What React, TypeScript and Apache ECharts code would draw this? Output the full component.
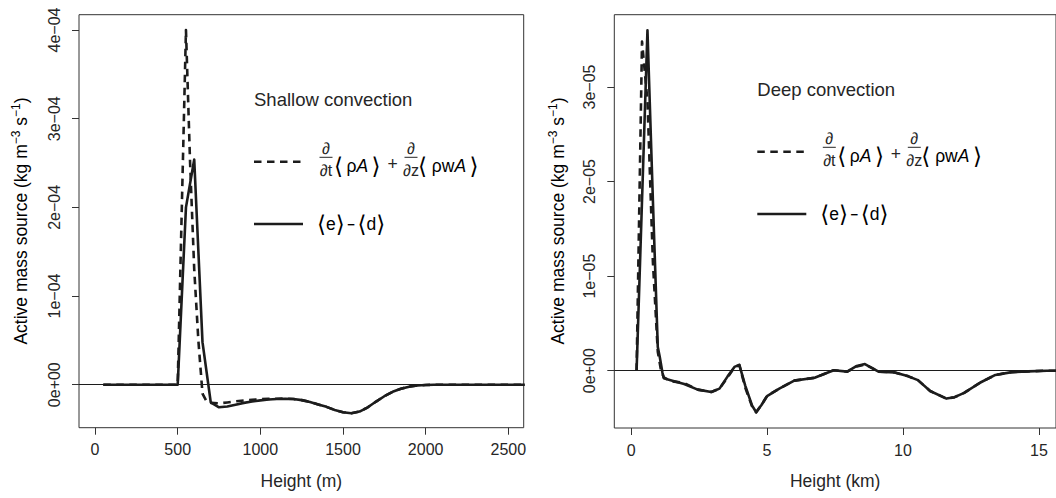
import React, { useEffect, useRef } from 'react';
import * as echarts from 'echarts';

// ---------- data (shallow: height in m, values in units of 1e-4) ----------
const SHALLOW_UNIT = 1e-4;
const shallowNetHeight = [50, 100, 150, 200, 250, 300, 350, 400, 450, 500, 550, 600, 650, 700, 750, 800, 850, 900, 950, 1000, 1050, 1100, 1150, 1200, 1250, 1300, 1350, 1400, 1450, 1500, 1550, 1600, 1650, 1700, 1750, 1800, 1850, 1900, 1950, 2000, 2050, 2100, 2200, 2300, 2400, 2500, 2600];
const shallowNet = [0, 0, 0, 0, 0, 0, 0, 0, 0, 0, 2.0, 2.54, 0.48, -0.2, -0.255, -0.245, -0.225, -0.205, -0.19, -0.177, -0.167, -0.161, -0.158, -0.162, -0.174, -0.194, -0.222, -0.25, -0.285, -0.31, -0.322, -0.303, -0.255, -0.19, -0.13, -0.08, -0.046, -0.022, -0.009, -0.004, -0.001, 0, 0, 0, 0, 0, 0];
const shallowStorageHeight = [50, 100, 150, 200, 250, 300, 350, 400, 450, 500, 550, 575, 600, 625, 650, 675, 700, 750, 800, 850, 900, 950, 1000, 1050, 1100, 1150, 1200, 1250, 1300, 1350, 1400, 1450, 1500, 1550, 1600, 1650, 1700, 1750, 1800, 1850, 1900, 1950, 2000, 2050, 2100, 2200, 2300, 2400, 2500, 2600];
const shallowStorage = [0, 0, 0, 0, 0, 0, 0, 0, 0, 0, 4.0, 2.5, 1.3, 0.5, -0.1, -0.19, -0.205, -0.21, -0.2, -0.188, -0.178, -0.17, -0.164, -0.16, -0.158, -0.157, -0.162, -0.174, -0.194, -0.222, -0.25, -0.285, -0.31, -0.322, -0.303, -0.255, -0.19, -0.13, -0.08, -0.046, -0.022, -0.009, -0.004, -0.001, 0, 0, 0, 0, 0, 0];
const shallowXTicks = [0, 500, 1000, 1500, 2000, 2500];
const shallowXLabels = ['0', '500', '1000', '1500', '2000', '2500'];
const shallowYTicks = [0, 1e-4, 2e-4, 3e-4, 4e-4];
const shallowYLabels = ['0e+00', '1e\u221204', '2e\u221204', '3e\u221204', '4e\u221204'];

// ---------- data (deep: height in km, values in units of 1e-5) ----------
const DEEP_UNIT = 1e-5;
const deepNetHeight = [0.2, 0.6, 0.8, 0.98, 1.05, 1.15, 1.2, 1.45, 1.95, 2.45, 2.95, 3.25, 3.55, 3.8, 3.98, 4.2, 4.45, 4.6, 4.8, 5.0, 5.45, 6.0, 6.75, 7.1, 7.45, 7.95, 8.3, 8.6, 8.85, 9.1, 9.7, 10.2, 10.55, 11.0, 11.6, 11.9, 12.25, 12.85, 13.4, 14.0, 14.6, 15.3, 16.0];
const deepNet = [0, 3.6, 1.8, 0.25, 0.15, -0.02, -0.08, -0.1, -0.14, -0.2, -0.225, -0.19, -0.06, 0.04, 0.062, -0.16, -0.37, -0.44, -0.36, -0.27, -0.19, -0.105, -0.075, -0.035, 0.005, -0.01, 0.05, 0.07, 0.03, -0.01, -0.018, -0.06, -0.1, -0.215, -0.295, -0.28, -0.235, -0.125, -0.045, -0.015, -0.007, 0, 0];
const deepStorageHeight = [0.2, 0.4, 0.6, 0.8, 0.98, 1.1, 1.2, 1.45, 1.95, 2.45, 2.95, 3.25, 3.55, 3.8, 3.98, 4.2, 4.45, 4.6, 4.8, 5.0, 5.45, 6.0, 6.75, 7.1, 7.45, 7.95, 8.3, 8.6, 8.85, 9.1, 9.7, 10.2, 10.55, 11.0, 11.6, 11.9, 12.25, 12.85, 13.4, 14.0, 14.6, 15.3, 16.0];
const deepStorage = [0, 3.48, 2.85, 1.15, 0.2, 0.0, -0.07, -0.11, -0.13, -0.2, -0.225, -0.19, -0.07, 0.035, 0.06, -0.18, -0.38, -0.44, -0.36, -0.265, -0.19, -0.105, -0.075, -0.035, 0.005, -0.01, 0.045, 0.065, 0.03, -0.01, -0.018, -0.06, -0.1, -0.215, -0.295, -0.28, -0.235, -0.125, -0.045, -0.015, -0.007, 0, 0];
const deepXTicks = [0, 5, 10, 15];
const deepXLabels = ['0', '5', '10', '15'];
const deepYTicks = [0, 1e-5, 2e-5, 3e-5];
const deepYLabels = ['0e+00', '1e\u221205', '2e\u221205', '3e\u221205'];

const panelTitles = ['Shallow convection', 'Deep convection'];
const xTitles = ['Height (m)', 'Height (km)'];

const FONT = "'Liberation Sans', 'DejaVu Sans', Arial, sans-serif";
const INK = '#1c1c1c';
const AXIS = '#333333';
const TEXT = '#262626';

function pairs(xs: number[], ys: number[], unit: number) {
  return xs.map((x, i) => [x, ys[i] * unit]);
}

function lookup(ticks: number[], labels: string[]) {
  return (v: number) => {
    const i = ticks.findIndex((t) => Math.abs(t - v) <= Math.abs(t) * 1e-6 + 1e-15);
    return i >= 0 ? labels[i] : '';
  };
}

function xAxisCfg(gridIndex: number, min: number, max: number, ticks: number[], labels: string[], name: string) {
  return {
    type: 'value', gridIndex, min, max, position: 'bottom',
    axisLine: { show: false, onZero: false },
    splitLine: { show: false },
    axisTick: { show: true, inside: false, length: 7, customValues: ticks, lineStyle: { color: AXIS, width: 1 } },
    axisLabel: { show: true, customValues: ticks, formatter: lookup(ticks, labels), fontSize: 16, fontFamily: FONT, color: TEXT, margin: 14 },
    name, nameLocation: 'middle', nameGap: 44,
    nameTextStyle: { fontSize: 17.5, fontFamily: FONT, color: TEXT },
  };
}

function yAxisCfg(gridIndex: number, min: number, max: number, ticks: number[], labels: string[]) {
  return {
    type: 'value', gridIndex, min, max, position: 'left',
    axisLine: { show: false, onZero: false },
    splitLine: { show: false },
    axisTick: { show: true, inside: false, length: 7, customValues: ticks, lineStyle: { color: AXIS, width: 1 } },
    axisLabel: { show: true, customValues: ticks, formatter: lookup(ticks, labels), rotate: 90, fontSize: 16, fontFamily: FONT, color: TEXT, margin: 17 },
  };
}

function lineSeries(data: number[][], gridIdx: number, dashed: boolean, withZero: boolean) {
  const s: any = {
    type: 'line', xAxisIndex: gridIdx, yAxisIndex: gridIdx, data,
    showSymbol: false, symbol: 'none', clip: true, silent: true,
    lineStyle: { color: INK, width: 2.6, type: dashed ? [7.5, 5.5] : 'solid', cap: 'butt', join: 'round' },
    z: dashed ? 3 : 4,
  };
  if (withZero) {
    s.markLine = {
      silent: true, symbol: ['none', 'none'], label: { show: false },
      lineStyle: { color: INK, width: 1, type: 'solid' },
      data: [{ yAxis: 0 }],
      z: 2,
    };
  }
  return s;
}

function frac(cx: number, yDash: number, letter: string) {
  const base = { fontSize: 16, fontFamily: FONT, fill: TEXT, align: 'center', verticalAlign: 'middle' };
  return [
    { type: 'text', x: cx, y: yDash - 13.5, style: { ...base, text: '\u2202' } },
    { type: 'line', shape: { x1: cx - 6.5, y1: yDash - 4.4, x2: cx + 6.5, y2: yDash - 4.4 }, style: { stroke: TEXT, lineWidth: 1 } },
    { type: 'text', x: cx, y: yDash + 8.3, style: { ...base, text: '\u2202' + letter } },
  ];
}

const mathRich = {
  b: { fontSize: 23, fontFamily: FONT, color: TEXT },
  g: { fontSize: 17.5, fontFamily: FONT, color: TEXT },
  i: { fontSize: 17.5, fontFamily: FONT, color: TEXT, fontStyle: 'italic' },
  m: { fontSize: 13, fontFamily: FONT, color: TEXT, fontWeight: 'bold' },
};

function legend(x0: number, yDash: number, title: string) {
  const ySolid = yDash + 62.3;
  const mainY = yDash + 4;
  return [
    { type: 'text', x: x0, y: yDash - 62, style: { text: title, fontSize: 18.5, fontFamily: FONT, fill: TEXT, align: 'left', verticalAlign: 'middle' } },
    { type: 'line', shape: { x1: x0, y1: yDash, x2: x0 + 48, y2: yDash }, style: { stroke: INK, lineWidth: 2.6, lineDash: [7.5, 5.5] } },
    ...frac(x0 + 72, yDash, 't'),
    { type: 'text', x: x0 + 80, y: mainY, style: { text: '{b|\u27E8}{g|\u2009\u03C1}{i|A}{g|\u2009}{b|\u27E9}', rich: mathRich, align: 'left', verticalAlign: 'middle' } },
    { type: 'text', x: x0 + 138.5, y: yDash + 2, style: { text: '+', fontSize: 17.5, fontFamily: FONT, fill: TEXT, align: 'center', verticalAlign: 'middle' } },
    ...frac(x0 + 157, yDash, 'z'),
    { type: 'text', x: x0 + 164, y: mainY, style: { text: '{b|\u27E8}{g| \u03C1w}{i|A}{g|\u2009}{b|\u27E9}', rich: mathRich, align: 'left', verticalAlign: 'middle' } },
    { type: 'line', shape: { x1: x0, y1: ySolid, x2: x0 + 49, y2: ySolid }, style: { stroke: INK, lineWidth: 2.6 } },
    { type: 'text', x: x0 + 63, y: ySolid, style: { text: '{b|\u27E8}{g|e}{b|\u27E9}{m|\u2009\u2212\u2009}{b|\u27E8}{g|d}{b|\u27E9}', rich: mathRich, align: 'left', verticalAlign: 'middle' } },
  ];
}

function yTitle(x: number, y: number) {
  return {
    type: 'text', x, y, rotation: Math.PI / 2,
    style: {
      text: '{n|Active mass source (kg m}{s|\u22123}{n| s}{s|\u22121}{n|)}',
      align: 'center', verticalAlign: 'middle',
      rich: {
        n: { fontSize: 17.5, fontFamily: FONT, color: TEXT, lineHeight: 22, verticalAlign: 'middle' },
        s: { fontSize: 12, fontFamily: FONT, color: TEXT, lineHeight: 10, verticalAlign: 'top' },
      },
    },
  };
}

export default function App() {
  const ref = useRef<HTMLDivElement>(null);
  useEffect(() => {
    if (!ref.current) return;
    const chart = echarts.init(ref.current, null, { renderer: 'svg' });
    const option: any = {
      animation: false,
      backgroundColor: '#ffffff',
      grid: [
        { left: 79, top: 14.7, width: 444.7, height: 413, show: true, borderColor: AXIS, borderWidth: 1, backgroundColor: 'transparent', containLabel: false },
        { left: 614.3, top: 14.7, width: 445.7, height: 413.3, show: true, borderColor: AXIS, borderWidth: 1, backgroundColor: 'transparent', containLabel: false },
      ],
      xAxis: [
        xAxisCfg(0, -97, 2593, shallowXTicks, shallowXLabels, xTitles[0]),
        xAxisCfg(1, -0.62, 15.63, deepXTicks, deepXLabels, xTitles[1]),
      ],
      yAxis: [
        yAxisCfg(0, -0.485e-4, 4.173e-4, shallowYTicks, shallowYLabels),
        yAxisCfg(1, -0.606e-5, 3.764e-5, deepYTicks, deepYLabels),
      ],
      series: [
        lineSeries(pairs(shallowStorageHeight, shallowStorage, SHALLOW_UNIT), 0, true, true),
        lineSeries(pairs(shallowNetHeight, shallowNet, SHALLOW_UNIT), 0, false, false),
        lineSeries(pairs(deepStorageHeight, deepStorage, DEEP_UNIT), 1, true, true),
        lineSeries(pairs(deepNetHeight, deepNet, DEEP_UNIT), 1, false, false),
      ],
      graphic: [
        yTitle(21, 221),
        yTitle(558, 221),
        ...legend(254, 161.7, panelTitles[0]),
        ...legend(757.3, 151.7, panelTitles[1]),
      ],
    };
    chart.setOption(option);
    return () => chart.dispose();
  }, []);
  return (
    <div
      ref={ref}
      style={{ position: 'fixed', left: 0, top: 0, width: 1056, height: 498, background: '#fff' }}
    />
  );
}
